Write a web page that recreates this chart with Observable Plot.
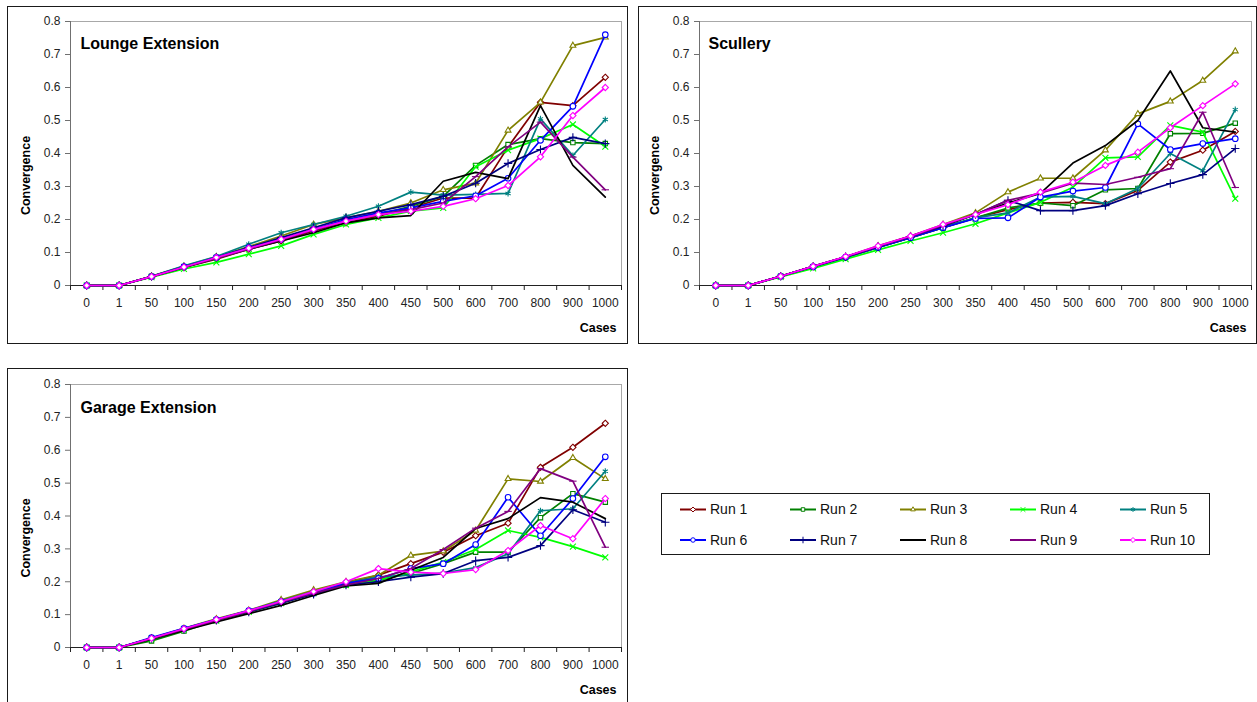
<!DOCTYPE html>
<html>
<head>
<meta charset="utf-8">
<script src="https://cdn.jsdelivr.net/npm/d3@7"></script>
<script src="https://cdn.jsdelivr.net/npm/@observablehq/plot@0.6"></script>
<style>
  html, body { margin: 0; padding: 0; background: #fff; }
  #page { position: relative; width: 1257px; height: 702px; overflow: hidden;
          font-family: "Liberation Sans", Arial, sans-serif; }
  .box { position: absolute; border: 1px solid #1a1a1a; box-sizing: border-box; }
  .chart { position: absolute; }
</style>
</head>
<body>
<div id="page"></div>
<script>
// Number of cases after which convergence was measured
const cases = ["0", "1", "50", "100", "150", "200", "250", "300", "350", "400", "450",
               "500", "600", "700", "800", "900", "1000"];
const runs = ["Run 1", "Run 2", "Run 3", "Run 4", "Run 5", "Run 6", "Run 7", "Run 8", "Run 9", "Run 10"];
const runColors = ["#800000", "#008000", "#808000", "#00ff00", "#008080",
                   "#0000ff", "#000080", "#000000", "#800080", "#ff00ff"];
const runMarkers = ["diamond2", "square2", "triangle2", "times", "asterisk",
                    "circle", "plus", null, "dash", "diamond2"];
const yTicks = [0, 0.1, 0.2, 0.3, 0.4, 0.5, 0.6, 0.7, 0.8];

// Convergence per run (one row per run, one value per case count)
const lounge = [
  [0, 0, 0.027, 0.055, 0.080, 0.110, 0.135, 0.165, 0.190, 0.210, 0.235, 0.265, 0.265, 0.420, 0.555, 0.545, 0.631],
  [0, 0, 0.028, 0.057, 0.085, 0.115, 0.140, 0.170, 0.195, 0.215, 0.240, 0.270, 0.364, 0.427, 0.445, 0.433, 0.430],
  [0, 0, 0.028, 0.058, 0.087, 0.118, 0.150, 0.185, 0.205, 0.225, 0.250, 0.290, 0.310, 0.470, 0.555, 0.727, 0.752],
  [0, 0, 0.025, 0.050, 0.070, 0.095, 0.120, 0.155, 0.185, 0.205, 0.225, 0.235, 0.360, 0.410, 0.445, 0.488, 0.421],
  [0, 0, 0.028, 0.060, 0.088, 0.125, 0.160, 0.185, 0.210, 0.240, 0.283, 0.274, 0.276, 0.279, 0.505, 0.394, 0.503],
  [0, 0, 0.027, 0.057, 0.085, 0.115, 0.140, 0.170, 0.200, 0.220, 0.235, 0.255, 0.272, 0.325, 0.440, 0.543, 0.760],
  [0, 0, 0.027, 0.056, 0.085, 0.115, 0.145, 0.175, 0.205, 0.225, 0.245, 0.270, 0.310, 0.370, 0.412, 0.449, 0.430],
  [0, 0, 0.027, 0.055, 0.083, 0.110, 0.135, 0.160, 0.190, 0.205, 0.212, 0.316, 0.343, 0.324, 0.545, 0.364, 0.268],
  [0, 0, 0.027, 0.055, 0.082, 0.110, 0.138, 0.168, 0.195, 0.215, 0.230, 0.250, 0.330, 0.420, 0.495, 0.389, 0.290],
  [0, 0, 0.027, 0.056, 0.085, 0.113, 0.140, 0.170, 0.195, 0.215, 0.225, 0.240, 0.263, 0.303, 0.390, 0.515, 0.600]
];
const scullery = [
  [0, 0, 0.028, 0.057, 0.085, 0.115, 0.145, 0.175, 0.205, 0.230, 0.250, 0.252, 0.248, 0.288, 0.374, 0.410, 0.467],
  [0, 0, 0.028, 0.057, 0.085, 0.115, 0.145, 0.175, 0.205, 0.235, 0.250, 0.242, 0.290, 0.294, 0.460, 0.461, 0.492],
  [0, 0, 0.028, 0.058, 0.087, 0.120, 0.150, 0.185, 0.220, 0.283, 0.325, 0.325, 0.410, 0.520, 0.558, 0.621, 0.710],
  [0, 0, 0.026, 0.052, 0.080, 0.108, 0.135, 0.160, 0.187, 0.220, 0.252, 0.298, 0.387, 0.390, 0.485, 0.465, 0.263],
  [0, 0, 0.028, 0.057, 0.085, 0.117, 0.145, 0.178, 0.205, 0.220, 0.268, 0.270, 0.248, 0.294, 0.400, 0.348, 0.533],
  [0, 0, 0.028, 0.057, 0.086, 0.115, 0.145, 0.175, 0.203, 0.205, 0.268, 0.286, 0.297, 0.490, 0.412, 0.430, 0.445],
  [0, 0, 0.028, 0.058, 0.087, 0.118, 0.148, 0.180, 0.215, 0.258, 0.227, 0.227, 0.242, 0.278, 0.309, 0.336, 0.415],
  [0, 0, 0.028, 0.058, 0.087, 0.118, 0.150, 0.182, 0.215, 0.250, 0.279, 0.371, 0.424, 0.500, 0.650, 0.478, 0.465],
  [0, 0, 0.028, 0.058, 0.087, 0.118, 0.148, 0.182, 0.215, 0.258, 0.280, 0.310, 0.306, 0.328, 0.354, 0.525, 0.297],
  [0, 0, 0.028, 0.058, 0.088, 0.120, 0.150, 0.185, 0.215, 0.245, 0.283, 0.313, 0.364, 0.404, 0.478, 0.545, 0.611]
];
const garage = [
  [0, 0, 0.028, 0.055, 0.083, 0.110, 0.140, 0.170, 0.195, 0.220, 0.255, 0.290, 0.340, 0.378, 0.548, 0.609, 0.682],
  [0, 0, 0.020, 0.050, 0.082, 0.110, 0.138, 0.168, 0.190, 0.205, 0.225, 0.255, 0.290, 0.290, 0.395, 0.468, 0.442],
  [0, 0, 0.028, 0.058, 0.087, 0.113, 0.145, 0.175, 0.200, 0.220, 0.280, 0.293, 0.356, 0.513, 0.505, 0.577, 0.513],
  [0, 0, 0.027, 0.055, 0.082, 0.108, 0.135, 0.165, 0.190, 0.205, 0.230, 0.260, 0.298, 0.356, 0.335, 0.307, 0.274],
  [0, 0, 0.028, 0.057, 0.085, 0.112, 0.142, 0.170, 0.195, 0.215, 0.220, 0.226, 0.243, 0.285, 0.416, 0.422, 0.536],
  [0, 0, 0.030, 0.058, 0.085, 0.112, 0.140, 0.165, 0.195, 0.210, 0.240, 0.255, 0.313, 0.457, 0.340, 0.453, 0.580],
  [0, 0, 0.028, 0.055, 0.083, 0.108, 0.135, 0.162, 0.190, 0.200, 0.214, 0.225, 0.264, 0.274, 0.310, 0.419, 0.381],
  [0, 0, 0.025, 0.052, 0.078, 0.103, 0.128, 0.158, 0.187, 0.195, 0.235, 0.274, 0.362, 0.392, 0.456, 0.442, 0.392],
  [0, 0, 0.027, 0.055, 0.082, 0.110, 0.138, 0.165, 0.190, 0.210, 0.240, 0.298, 0.363, 0.414, 0.544, 0.506, 0.305],
  [0, 0, 0.028, 0.057, 0.085, 0.112, 0.140, 0.170, 0.200, 0.240, 0.229, 0.225, 0.237, 0.295, 0.371, 0.331, 0.453]
];

const FONT = '"Liberation Sans", Arial, sans-serif';

// Short horizontal bar marker
const dashSymbol = {
  draw(context, size) {
    const w = Math.sqrt(size) * 0.75;
    context.moveTo(-w, 0);
    context.lineTo(w, 0);
  }
};
const markerSymbol = m => (m === "dash" ? dashSymbol : m);
const openShape = m => ["diamond2", "square2", "triangle2", "circle"].includes(m);

function panel({title, values, left, top, width, height, margin, titleDx, titleDy}) {
  const rows = values.flatMap((vals, r) => vals.map((v, i) => ({run: runs[r], i, v})));
  const bounds = cases.map((_, i) => i - 0.5).concat([cases.length - 0.5]);

  const seriesMarks = runs.flatMap((run, r) => {
    const data = rows.filter(d => d.run === run);
    const m = runMarkers[r];
    const out = [Plot.line(data, {x: "i", y: "v", stroke: "run", strokeWidth: 1.7})];
    if (m) {
      out.push(Plot.dot(data, {
        x: "i", y: "v", stroke: "run", r: 2.8, strokeWidth: 1.1,
        symbol: markerSymbol(m), fill: openShape(m) ? "white" : "none"
      }));
    }
    return out;
  });

  const chart = Plot.plot({
    width, height,
    marginLeft: margin[0], marginRight: margin[1], marginTop: margin[2], marginBottom: margin[3],
    style: {fontFamily: FONT, fontSize: "12px", color: "#222", background: "transparent", overflow: "visible"},
    x: {type: "linear", domain: [-0.5, cases.length - 0.5]},
    y: {domain: [0, 0.8]},
    color: {domain: runs, range: runColors},
    marks: [
      Plot.frame({stroke: "#a8a8a8"}),
      Plot.axisY({ticks: yTicks, tickSize: 5, tickPadding: 5, tickFormat: d => String(d),
                  stroke: "#707070", fill: "#222", label: null}),
      Plot.axisX({ticks: bounds, tickSize: 5, tickFormat: () => "", stroke: "#222", label: null}),
      Plot.axisX({ticks: cases.map((_, i) => i), tickSize: 0, tickPadding: 13,
                  tickFormat: i => cases[i], fill: "#222", label: null}),
      Plot.ruleX([-0.5], {stroke: "#707070"}),
      Plot.ruleY([0], {stroke: "#222"}),
      ...seriesMarks,
      Plot.text([title], {frameAnchor: "top-left", dx: titleDx, dy: titleDy, textAnchor: "start",
                          lineAnchor: "middle", fontWeight: "bold", fontSize: 16, fill: "#000"}),
      Plot.text(["Convergence"], {frameAnchor: "left", dx: -45, dy: 22, rotate: -90,
                                  textAnchor: "middle", lineAnchor: "middle",
                                  fontWeight: "bold", fontSize: 12.5, fill: "#000"}),
      Plot.text(["Cases"], {frameAnchor: "bottom-right", dx: -5, dy: 42, textAnchor: "end",
                            lineAnchor: "middle", fontWeight: "bold", fontSize: 12.5, fill: "#000"})
    ]
  });
  chart.classList.add("chart");
  chart.style.left = left + "px";
  chart.style.top = top + "px";
  return chart;
}

const page = document.getElementById("page");

function box(left, top, width, height) {
  const d = document.createElement("div");
  d.className = "box";
  Object.assign(d.style, {left: left + "px", top: top + "px", width: width + "px", height: height + "px"});
  page.appendChild(d);
}

box(7, 6, 621, 338);
box(638, 6, 619, 338);
box(7, 368, 621, 345);

page.appendChild(panel({title: "Lounge Extension", values: lounge, left: 7, top: 6, width: 621, height: 338,
                        margin: [63, 7, 15, 59], titleDx: 10, titleDy: 22}));
page.appendChild(panel({title: "Scullery", values: scullery, left: 638, top: 6, width: 619, height: 338,
                        margin: [61, 6, 15, 59], titleDx: 9, titleDy: 22}));
page.appendChild(panel({title: "Garage Extension", values: garage, left: 7, top: 368, width: 621, height: 340,
                        margin: [63, 7, 16, 61], titleDx: 10, titleDy: 23}));

// Legend: two rows of five runs
const legendLeft = 661, legendTop = 493, legendW = 549, legendH = 62;
box(legendLeft, legendTop, legendW, legendH);
const lsvg = d3.select(page).append("svg")
  .attr("width", legendW).attr("height", legendH)
  .style("position", "absolute").style("left", legendLeft + "px").style("top", legendTop + "px")
  .style("font-family", FONT);
const d3Symbols = {
  diamond2: d3.symbolDiamond2, square2: d3.symbolSquare2, triangle2: d3.symbolTriangle2,
  times: d3.symbolTimes, asterisk: d3.symbolAsterisk, circle: d3.symbolCircle, plus: d3.symbolPlus
};
runs.forEach((run, r) => {
  const col = r % 5, row = Math.floor(r / 5);
  const x0 = 19 + col * 110, y0 = 16.5 + row * 30.5;
  const g = lsvg.append("g").attr("transform", `translate(${x0},${y0})`);
  g.append("line").attr("x1", 0).attr("x2", 26).attr("y1", 0).attr("y2", 0)
    .attr("stroke", runColors[r]).attr("stroke-width", 2);
  const m = runMarkers[r];
  if (m && d3Symbols[m]) {
    g.append("path").attr("transform", "translate(13,0)")
      .attr("d", d3.symbol(d3Symbols[m], 16)())
      .attr("stroke", runColors[r]).attr("stroke-width", 1)
      .attr("fill", openShape(m) ? "white" : "none");
  }
  g.append("text").attr("x", 30).attr("y", 0).attr("dy", "0.35em")
    .attr("font-size", 14).attr("fill", "#111").text(run);
});
</script>
</body>
</html>
